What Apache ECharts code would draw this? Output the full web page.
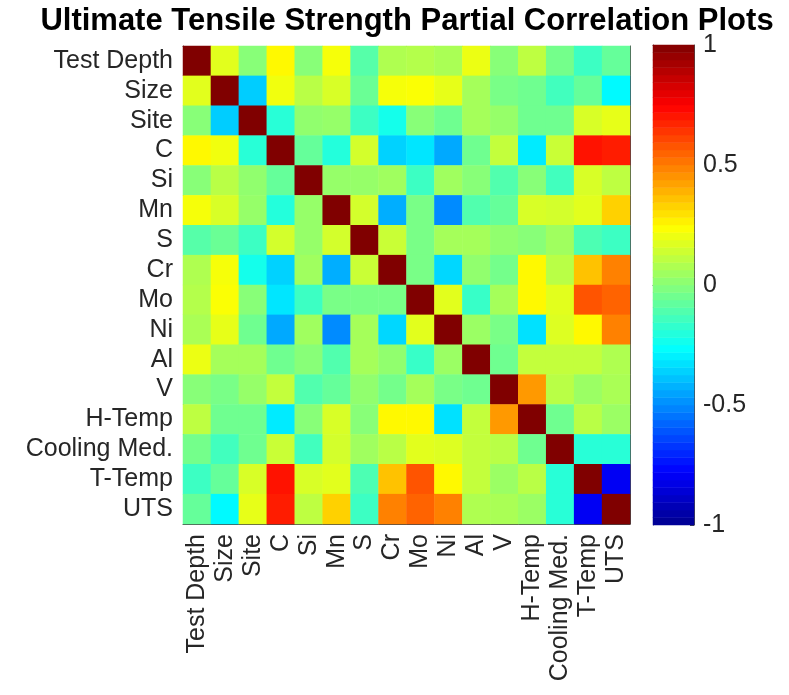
<!DOCTYPE html>
<html>
<head>
<meta charset="utf-8">
<script src="https://cdn.jsdelivr.net/npm/echarts@6/dist/echarts.min.js"></script>
<style>
  html, body { margin: 0; padding: 0; background: #ffffff; }
  #chart { width: 789px; height: 695px; }
</style>
</head>
<body>
<div id="chart"></div>
<script>
// Variables of the partial correlation matrix (rows top to bottom, columns left to right)
const variables = ['Test Depth', 'Size', 'Site', 'C', 'Si', 'Mn', 'S', 'Cr', 'Mo', 'Ni', 'Al', 'V', 'H-Temp', 'Cooling Med.', 'T-Temp', 'UTS'];

// Partial correlation coefficients, one array per row
const rowTestDepth = [1, 0.18, 0.00, 0.25, 0.00, 0.22, -0.10, 0.08, 0.09, 0.07, 0.20, 0.00, 0.11, -0.04, -0.15, -0.07];
const rowSize      = [0.18, 1, -0.37, 0.21, 0.10, 0.16, -0.06, 0.22, 0.23, 0.19, 0.06, -0.03, -0.05, -0.14, -0.07, -0.28];
const rowSite      = [0.00, -0.37, 1, -0.19, 0.02, 0.03, -0.15, -0.23, 0.00, -0.05, 0.06, 0.03, -0.05, -0.05, 0.16, 0.19];
const rowC         = [0.25, 0.21, -0.19, 1, -0.07, -0.20, 0.15, -0.36, -0.32, -0.44, -0.05, 0.12, -0.31, 0.13, 0.71, 0.69];
const rowSi        = [0.00, 0.10, 0.02, -0.07, 1, 0.03, 0.03, 0.05, -0.15, 0.05, 0.00, -0.11, 0.00, -0.14, 0.16, 0.11];
const rowMn        = [0.22, 0.16, 0.03, -0.20, 0.03, 1, 0.15, -0.43, -0.03, -0.50, -0.11, -0.07, 0.16, 0.15, 0.18, 0.33];
const rowS         = [-0.10, -0.06, -0.15, 0.15, 0.03, 0.15, 1, 0.13, -0.03, 0.06, 0.06, 0.02, 0.00, 0.05, -0.12, -0.15];
const rowCr        = [0.08, 0.22, -0.23, -0.36, 0.05, -0.43, 0.13, 1, -0.03, -0.35, 0.02, -0.04, 0.25, 0.10, 0.36, 0.49];
const rowMo        = [0.09, 0.23, 0.00, -0.32, -0.15, -0.03, -0.03, -0.03, 1, 0.18, -0.16, 0.06, 0.25, 0.18, 0.58, 0.55];
const rowNi        = [0.07, 0.19, -0.05, -0.44, 0.05, -0.50, 0.06, -0.35, 0.18, 1, 0.04, -0.03, -0.33, 0.17, 0.25, 0.49];
const rowAl        = [0.20, 0.06, 0.06, -0.05, 0.00, -0.11, 0.06, 0.02, -0.16, 0.04, 1, -0.05, 0.12, 0.12, 0.12, 0.08];
const rowV         = [0.00, -0.03, 0.03, 0.12, -0.11, -0.07, 0.02, -0.04, 0.06, -0.03, -0.05, 1, 0.44, 0.10, 0.04, 0.07];
const rowHTemp     = [0.11, -0.05, -0.05, -0.31, 0.00, 0.16, 0.00, 0.25, 0.25, -0.33, 0.12, 0.44, 1, -0.05, 0.10, 0.04];
const rowCooling   = [-0.04, -0.14, -0.05, 0.13, -0.14, 0.15, 0.05, 0.10, 0.18, 0.17, 0.12, 0.10, -0.05, 1, -0.19, -0.19];
const rowTTemp     = [-0.15, -0.07, 0.16, 0.71, 0.16, 0.18, -0.12, 0.36, 0.58, 0.25, 0.12, 0.04, 0.10, -0.19, 1, -0.80];
const rowUTS       = [-0.07, -0.28, 0.19, 0.69, 0.11, 0.33, -0.15, 0.49, 0.55, 0.49, 0.08, 0.07, 0.04, -0.19, -0.80, 1];

const matrixRows = [rowTestDepth, rowSize, rowSite, rowC, rowSi, rowMn, rowS, rowCr,
                    rowMo, rowNi, rowAl, rowV, rowHTemp, rowCooling, rowTTemp, rowUTS];

// Colour scale range and colorbar tick spacing
const scaleMin = -1;
const scaleMax = 1;
const scaleStep = 0.5;
const colorLevels = 64;

// Jet colormap with a fixed number of levels
function jetColor(t) {
  const c = v => Math.round(255 * Math.max(0, Math.min(1, v)));
  const r = c(1.5 - Math.abs(4 * t - 3));
  const g = c(1.5 - Math.abs(4 * t - 2));
  const b = c(1.5 - Math.abs(4 * t - 1));
  return 'rgb(' + r + ',' + g + ',' + b + ')';
}
const jetPalette = [];
for (let k = 0; k < colorLevels; k++) jetPalette.push(jetColor((k + 1) / colorLevels));

// Heatmap cells: [column, row, value]
const cells = [];
matrixRows.forEach((row, i) => row.forEach((v, j) => cells.push([j, i, v])));

// Colorbar strip: one cell per colour level, valued at the level centre
const levelIndex = [];
const barCells = [];
for (let k = 0; k < colorLevels; k++) {
  levelIndex.push(String(k));
  barCells.push([0, k, scaleMin + (scaleMax - scaleMin) * (k + 0.5) / colorLevels]);
}

const FONT = '"Liberation Sans", Arial, Helvetica, sans-serif';
const AXIS_COLOR = '#4a4a4a';
const TEXT_COLOR = '#262626';
const LABEL_SIZE = 25;

const chart = echarts.init(document.getElementById('chart'), null, { renderer: 'canvas' });

const boxAxis = (extra) => Object.assign({
  axisLine: { show: true, lineStyle: { color: AXIS_COLOR, width: 1 } },
  axisTick: { show: true, inside: true, length: 4, alignWithLabel: true, lineStyle: { color: AXIS_COLOR } },
  splitLine: { show: false },
  splitArea: { show: false }
}, extra);

chart.setOption({
  animation: false,
  backgroundColor: '#ffffff',
  textStyle: { fontFamily: FONT },
  title: {
    text: 'Ultimate Tensile Strength Partial Correlation Plots',
    left: 402,
    textAlign: 'center',
    top: 1,
    textStyle: { fontFamily: FONT, fontWeight: 'bold', fontSize: 31, color: '#000000' }
  },
  grid: [
    { left: 183, top: 46, width: 447, height: 478 },
    { left: 653, top: 45, width: 41, height: 480 }
  ],
  xAxis: [
    boxAxis({
      type: 'category', gridIndex: 0, position: 'bottom', data: variables,
      axisLabel: { rotate: 90, interval: 0, margin: 10, color: TEXT_COLOR, fontSize: LABEL_SIZE, fontFamily: FONT }
    }),
    boxAxis({
      type: 'category', gridIndex: 0, position: 'top', data: variables,
      axisLabel: { show: false }
    }),
    {
      type: 'category', gridIndex: 1, position: 'bottom', data: [''],
      axisLine: { show: true, lineStyle: { color: AXIS_COLOR } },
      axisTick: { show: false }, axisLabel: { show: false }
    },
    {
      type: 'category', gridIndex: 1, position: 'top', data: [''],
      axisLine: { show: true, lineStyle: { color: AXIS_COLOR } },
      axisTick: { show: false }, axisLabel: { show: false }
    }
  ],
  yAxis: [
    boxAxis({
      type: 'category', gridIndex: 0, position: 'left', inverse: true, data: variables,
      axisLabel: { interval: 0, margin: 10, color: TEXT_COLOR, fontSize: LABEL_SIZE, fontFamily: FONT }
    }),
    boxAxis({
      type: 'category', gridIndex: 0, position: 'right', inverse: true, data: variables,
      axisLabel: { show: false }
    }),
    {
      type: 'category', gridIndex: 1, position: 'left', data: levelIndex,
      axisLine: { show: true, lineStyle: { color: AXIS_COLOR } },
      axisTick: { show: false }, axisLabel: { show: false }
    },
    {
      type: 'value', gridIndex: 1, position: 'right', min: scaleMin, max: scaleMax, interval: scaleStep,
      axisLine: { show: true, lineStyle: { color: AXIS_COLOR } },
      axisTick: { show: true, inside: true, length: 4, lineStyle: { color: AXIS_COLOR } },
      splitLine: { show: false },
      axisLabel: { margin: 9, color: TEXT_COLOR, fontSize: LABEL_SIZE, fontFamily: FONT }
    }
  ],
  visualMap: {
    type: 'continuous',
    show: false,
    min: scaleMin,
    max: scaleMax,
    dimension: 2,
    seriesIndex: [0, 1],
    inRange: { color: jetPalette }
  },
  series: [
    {
      type: 'heatmap',
      xAxisIndex: 0, yAxisIndex: 0,
      data: cells,
      itemStyle: { borderWidth: 0 },
      emphasis: { disabled: true }
    },
    {
      type: 'heatmap',
      xAxisIndex: 2, yAxisIndex: 2,
      data: barCells,
      itemStyle: { borderWidth: 0 },
      emphasis: { disabled: true }
    }
  ]
});
</script>
</body>
</html>
